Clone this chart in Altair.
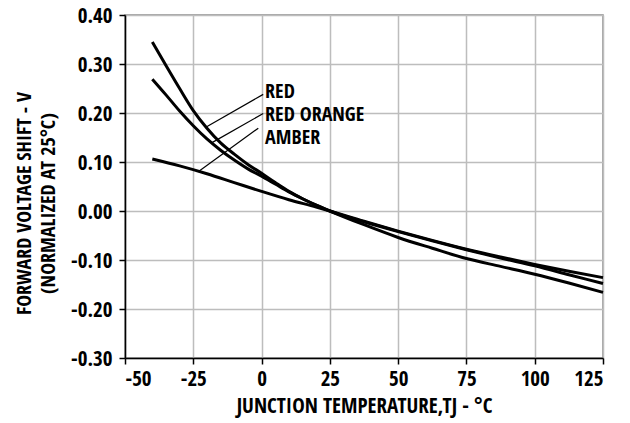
import altair as alt
import pandas as pd

# ---- data ----
red_t = [-40, -35, -30, -25, -20, -15, -10, -5, 0, 5, 10, 15, 20, 25, 37.5, 50, 62.5, 75, 87.5, 100, 112.5, 125]
red_v = [0.345, 0.297, 0.250, 0.205, 0.169, 0.139, 0.116, 0.095, 0.077, 0.058, 0.040, 0.025, 0.012, 0.000,
         -0.028, -0.054, -0.076, -0.097, -0.113, -0.129, -0.147, -0.166]

ro_t = [-40, -35, -30, -25, -20, -15, -10, -5, 0, 5, 10, 15, 20, 25, 37.5, 50, 62.5, 75, 87.5, 100, 112.5, 125]
ro_v = [0.269, 0.237, 0.204, 0.174, 0.147, 0.124, 0.104, 0.086, 0.071, 0.055, 0.039, 0.025, 0.012, 0.000,
        -0.022, -0.042, -0.061, -0.079, -0.096, -0.112, -0.130, -0.148]

amb_t = [-40, -30, -20, -10, 0, 10, 20, 25, 37.5, 50, 62.5, 75, 87.5, 100, 112.5, 125]
amb_v = [0.106, 0.092, 0.076, 0.058, 0.040, 0.023, 0.008, 0.000, -0.021, -0.041, -0.060, -0.078, -0.094, -0.109,
         -0.123, -0.136]

series_names = ["RED", "RED ORANGE", "AMBER"]

# label annotations (data units)
label_text = ["RED", "RED ORANGE", "AMBER"]
label_t = [1.3, 1.3, 1.3]
label_v = [0.231, 0.184, 0.137]
leader_t1 = [0.6, 0.6, -1.2]
leader_v1 = [0.238, 0.199, 0.169]
leader_t2 = [-20.1, -18.3, -23.2]
leader_v2 = [0.172, 0.139, 0.080]

x_ticks = [-50, -25, 0, 25, 50, 75, 100, 125]
y_ticks = [-0.3, -0.2, -0.1, 0.0, 0.1, 0.2, 0.3, 0.4]

FONT = "Open Sans Condensed"

rows = []
for name, ts, vs in zip(series_names, [red_t, ro_t, amb_t], [red_v, ro_v, amb_v]):
    for t, v in zip(ts, vs):
        rows.append({"series": name, "T": t, "V": v})
df = pd.DataFrame(rows)

lab = pd.DataFrame({"text": label_text, "T": label_t, "V": label_v})
lead = pd.DataFrame({"T1": leader_t1, "V1": leader_v1, "T2": leader_t2, "V2": leader_v2})

xscale = alt.Scale(domain=[-50, 125], nice=False, zero=False)
yscale = alt.Scale(domain=[-0.3, 0.4], nice=False, zero=False)

xaxis = alt.Axis(
    values=x_ticks,
    labelExpr="(datum.value < 0 ? '-' : '') + format(abs(datum.value), 'd')",
    title="JUNCTION TEMPERATURE,TJ - °C",
    titlePadding=6,
    labelPadding=4,
)
yaxis = alt.Axis(
    values=y_ticks,
    labelExpr="(datum.value < -0.0001 ? '-' : '') + format(abs(datum.value), '.2f')",
    title=["FORWARD VOLTAGE SHIFT - V", "(NORMALIZED AT 25°C)"],
    titleAngle=-90,
    titleAlign="center",
    titleBaseline="top",
    titleX=-111,
    titleY=188,
    titleLineHeight=24,
    titleFontSize=20,
    labelPadding=7,
    labelOffset=1,
)

lines = alt.Chart(df).mark_line(color="black", strokeWidth=3, interpolate="monotone").encode(
    x=alt.X("T:Q", scale=xscale, axis=xaxis),
    y=alt.Y("V:Q", scale=yscale, axis=yaxis),
    detail="series:N",
)

leaders = alt.Chart(lead).mark_rule(color="black", strokeWidth=1.2).encode(
    x=alt.X("T1:Q", scale=xscale),
    y=alt.Y("V1:Q", scale=yscale),
    x2="T2:Q",
    y2="V2:Q",
)

labels = alt.Chart(lab).mark_text(
    align="left", baseline="alphabetic", font=FONT, fontSize=20, fontWeight="bold", color="black"
).encode(
    x=alt.X("T:Q", scale=xscale),
    y=alt.Y("V:Q", scale=yscale),
    text="text:N",
)

chart = alt.layer(lines, leaders, labels).properties(
    width=478,
    height=343,
    autosize=alt.AutoSizeParams(type="none"),
    padding={"left": 117, "top": 7, "right": 12, "bottom": 64},
    background="white",
).configure_view(
    stroke="#8a8a8a", strokeWidth=1.5
).configure_axis(
    grid=True,
    gridColor="#bdbdbd",
    gridWidth=1.5,
    domainColor="black",
    domainWidth=1.5,
    tickColor="black",
    tickWidth=1.5,
    tickSize=6,
    labelFont=FONT,
    labelFontSize=21,
    labelFontWeight="bold",
    labelColor="black",
    titleFont=FONT,
    titleFontSize=21,
    titleFontWeight="bold",
    titleColor="black",
)

chart.save("out.html", embed_options={"renderer": "svg", "actions": False})
